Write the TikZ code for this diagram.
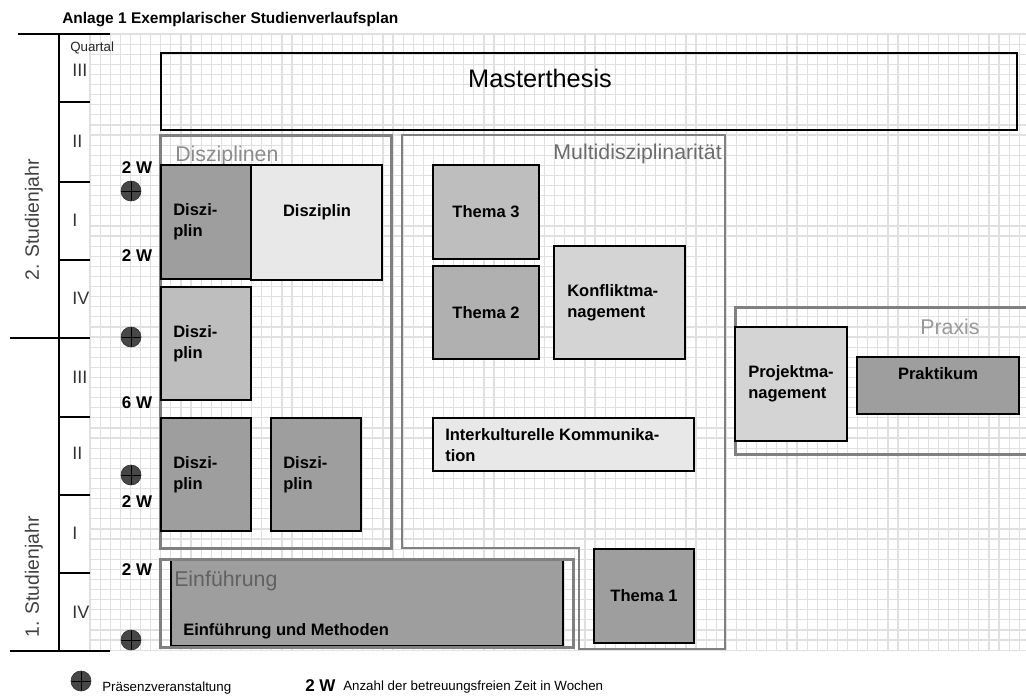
\documentclass[tikz,border=0pt]{standalone}
\usepackage{fontspec}
\setmainfont{Liberation Sans}
\usetikzlibrary{fit}
\definecolor{gridc}{HTML}{E0E0E0}
\definecolor{dk}{HTML}{9E9E9E}
\definecolor{md}{HTML}{BEBEBE}
\definecolor{mdd}{HTML}{B0B0B0}
\definecolor{lt}{HTML}{E8E8E8}
\definecolor{lm}{HTML}{D4D4D4}
\definecolor{framec}{HTML}{808080}
\definecolor{markc}{HTML}{474747}
\begin{document}
\begin{tikzpicture}[x=0.75pt,y=-0.75pt,
  cell/.style={draw=black,line width=0.9pt,inner sep=0pt},
  txt/.style={font=\bfseries\fontsize{12.4}{15.75}\selectfont, align=left, inner sep=0pt},
  grp/.style={draw=framec,line width=2.25pt},
  grplabel/.style={font=\fontsize{16}{19}\selectfont, inner sep=0pt},
  wk/.style={font=\bfseries\fontsize{12.75}{14}\selectfont, inner sep=0pt},
  roman/.style={font=\fontsize{13.5}{15}\selectfont, text=black!80, inner sep=0pt, anchor=west},
  axis/.style={draw=black,line width=0.9pt},
  mk/.style={circle, fill=markc, draw=black!80, line width=0.5pt, minimum size=15pt, inner sep=0pt,
    path picture={\draw[black,line width=0.6pt]
      (path picture bounding box.north) -- (path picture bounding box.south)
      (path picture bounding box.west) -- (path picture bounding box.east);}},
]
\useasboundingbox (0,0) rectangle (1026,696);
\clip (0,0) rectangle (1026,696);
% grid
\foreach \i in {0,...,92} \draw[gridc,line width=0.9pt] ({90+\i*10.1},34) -- ({90+\i*10.1},650);
\foreach \j in {0,...,61} \draw[gridc,line width=0.9pt] (90,{34+\j*10.1}) -- (1026,{34+\j*10.1});
% title
\node[anchor=west, inner sep=0pt, font=\bfseries\fontsize{11.6}{14}\selectfont] (title) at (62,20) {Anlage 1 Exemplarischer Studienverlaufsplan};
% left axis
\draw[axis] (18,34) -- (110,34);
\draw[axis] (59,34) -- (59,651);
\draw[axis] (10,338) -- (90,338);
\draw[axis] (10,651) -- (110,651);
\foreach \y in {102,182,260,417,495,573} \draw[axis] (59,\y) -- (90,\y);
\node[anchor=west, inner sep=0pt, font=\fontsize{10}{12}\selectfont, text=black!85] (quartal) at (70,48) {Quartal};
\node[roman] (q1) at (72,70) {III};
\node[roman] (q2) at (72,141) {II};
\node[roman] (q3) at (72,220) {I};
\node[roman] (q4) at (72,298) {IV};
\node[roman] (q5) at (72,377) {III};
\node[roman] (q6) at (72,453) {II};
\node[roman] (q7) at (72,533) {I};
\node[roman] (q8) at (72,612) {IV};
\node[rotate=90, inner sep=0pt, font=\fontsize{14.5}{16}\selectfont, text=black!75] (y2) at (34,220) {2. Studienjahr};
\node[rotate=90, inner sep=0pt, font=\fontsize{14.5}{16}\selectfont, text=black!75] (y1) at (34,577) {1. Studienjahr};
% markers and weeks
\node[mk] (m1) at (131,191) {};
\node[mk] (m2) at (131,337) {};
\node[mk] (m3) at (131,475) {};
\node[mk] (m4) at (131,640) {};
\node[wk] (w1) at (137,168) {2 W};
\node[wk] (w2) at (137,256) {2 W};
\node[wk] (w3) at (137,403) {6 W};
\node[wk] (w4) at (137,502) {2 W};
\node[wk] (w5) at (137,570) {2 W};
% Masterthesis
\node[draw=black, line width=1.9pt, inner sep=0pt, fit={(161,53) (1017,130)}] (mt) {};
\node[inner sep=0pt, font=\fontsize{19}{21}\selectfont] (mtt) at (540,78) {Masterthesis};
% Disziplinen group
\draw[grp] (160,135) rectangle (391,548);
\node[grplabel, anchor=west, text=black!45] (dl) at (175,156) {Disziplinen};
\node[cell, fill=dk, fit={(161,165) (251,279)}] (d1) {};
\node[cell, fill=lt, fit={(251,165) (382,280)}] (d2) {};
\node[cell, fill=md, fit={(161,287) (251,400)}] (d3) {};
\node[cell, fill=dk, fit={(161,418) (251,531)}] (d4) {};
\node[cell, fill=dk, fit={(271,418) (361,531)}] (d5) {};
\node[txt, anchor=west] (d1t) at (173,222) {Diszi-\\plin};
\node[txt] (d2t) at (317,212) {Disziplin};
\node[txt, anchor=west] (d3t) at (173,344) {Diszi-\\plin};
\node[txt, anchor=west] (d4t) at (173,475) {Diszi-\\plin};
\node[txt, anchor=west] (d5t) at (283,475) {Diszi-\\plin};
% Multidisziplinaritaet group
\draw[grp, line width=1.6pt] (402,135) -- (725,135) -- (725,649) -- (579,649) -- (579,548) -- (402,548) -- cycle;
\node[grplabel, anchor=east, text=black!58] (ml) at (722,154) {Multidisziplinarität};
\node[cell, fill=md, fit={(433,165) (539,259)}] (t3) {};
\node[cell, fill=mdd, fit={(433,266) (539,359)}] (t2) {};
\node[cell, fill=lm, fit={(554,246) (685,359)}] (km) {};
\node[cell, fill=lt, fit={(433,418) (694,471)}] (ik) {};
\node[cell, fill=dk, fit={(594,549) (694,643)}] (t1) {};
\node[txt] (t3t) at (486,212) {Thema 3};
\node[txt] (t2t) at (486,313) {Thema 2};
\node[txt, anchor=west] (kmt) at (567,303) {Konfliktma-\\nagement};
\node[txt, anchor=west] (ikt) at (445,445) {Interkulturelle Kommunika-\\tion};
\node[txt] (t1t) at (644,596) {Thema 1};
% Einfuehrung group
\node[cell, fill=dk, fit={(171,560) (563,646)}] (ein) {};
\draw[grp] (160,559) rectangle (573,647);
\node[grplabel, anchor=west, text=black!62] (el) at (174,581) {Einführung};
\node[txt, anchor=west] (eint) at (183,631) {Einführung und Methoden};
% Praxis group
\draw[grp] (1040,307) -- (735,307) -- (735,454) -- (1040,454);
\node[grplabel, text=black!40] (pl) at (950,327) {Praxis};
\node[cell, fill=lm, fit={(735,327) (847,441)}] (pm) {};
\node[cell, fill=dk, fit={(857,357) (1019,414)}] (pk) {};
\node[txt, anchor=west] (pmt) at (748,384) {Projektma-\\nagement};
\node[txt] (pkt) at (938,374) {Praktikum};
% legend
\node[mk] (lm1) at (81,681) {};
\node[anchor=west, inner sep=0pt, font=\fontsize{10}{12}\selectfont] (lt1) at (102,688) {Präsenzveranstaltung};
\node[wk, anchor=west] (lw) at (305,686) {2 W};
\node[anchor=west, inner sep=0pt, font=\fontsize{10}{12}\selectfont] (lt2) at (343,687) {Anzahl der betreuungsfreien Zeit in Wochen};
\end{tikzpicture}
\end{document}
